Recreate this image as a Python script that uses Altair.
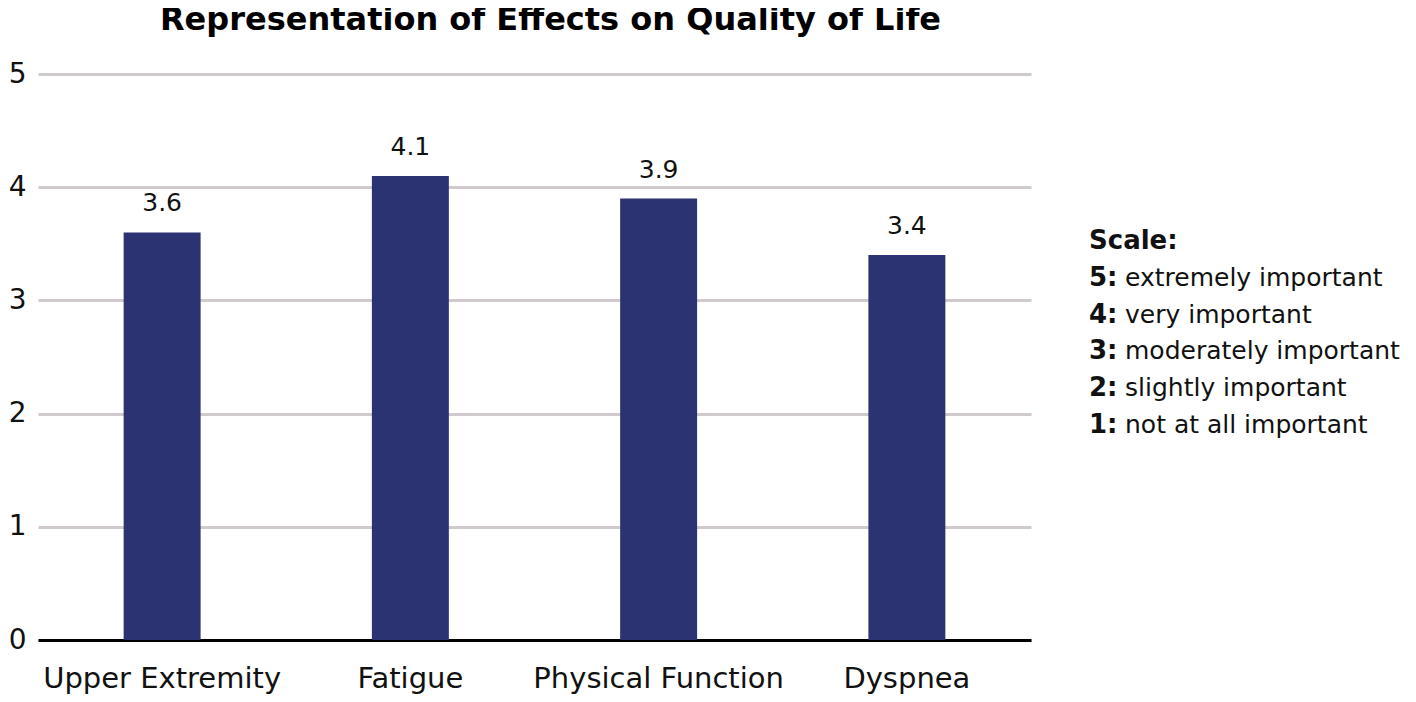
import altair as alt
import pandas as pd

categories = ["Upper Extremity", "Fatigue", "Physical Function", "Dyspnea"]
values = [3.6, 4.1, 3.9, 3.4]
value_labels = ["3.6", "4.1", "3.9", "3.4"]
y_ticks = [0, 1, 2, 3, 4, 5]
scale_keys = ["Scale:", "5:", "4:", "3:", "2:", "1:"]
scale_desc = ["", "extremely important", "very important", "moderately important",
              "slightly important", "not at all important"]

df = pd.DataFrame({"category": categories, "value": values, "label": value_labels})

FONT = "DejaVu Sans"
BAR = "#2c3373"
TXT = "#111111"

x = alt.X("category:N", sort=categories, title=None,
          scale=alt.Scale(paddingInner=0.69, paddingOuter=0.345),
          axis=alt.Axis(labelAngle=0, labelFontSize=29, labelColor=TXT,
                        labelFont=FONT, labelPadding=24, labelLimit=400, ticks=False,
                        domainColor="#000000", domainWidth=3))
y = alt.Y("value:Q", title=None,
          scale=alt.Scale(domain=[0, 5], nice=False),
          axis=alt.Axis(values=y_ticks, labelFontSize=28, labelColor=TXT,
                        labelFont=FONT, labelPadding=12, ticks=False, domain=False,
                        gridColor="#d0cacc", gridWidth=3, format="d"))

bars = alt.Chart(df).mark_bar(color=BAR).encode(x=x, y=y)
labels = alt.Chart(df).mark_text(fontSize=25, font=FONT, color=TXT,
                                 baseline="alphabetic", dy=-21).encode(
    x=alt.X("category:N", sort=categories), y="value:Q", text="label:N")

one = pd.DataFrame({"k": [0]})
legend_keys = alt.Chart(one).mark_text(
    text=scale_keys, fontSize=26, font=FONT, fontWeight="bold", color=TXT,
    align="left", baseline="alphabetic", lineHeight=36.8).encode(
    x=alt.value(1051), y=alt.value(175))
legend_desc = alt.Chart(one).mark_text(
    text=scale_desc, fontSize=25, font=FONT, color=TXT,
    align="left", baseline="alphabetic", lineHeight=36.8).encode(
    x=alt.value(1087), y=alt.value(175))

chart = alt.layer(bars, labels, legend_keys, legend_desc).properties(
    width=993, height=566,
    autosize=alt.AutoSizeParams(type="none"),
    padding={"left": 30, "top": 66, "right": 377, "bottom": 54},
    background="white",
    title=alt.TitleParams("Representation of Effects on Quality of Life",
                          fontSize=32, font=FONT, fontWeight="bold", color="#000000",
                          anchor="middle", dx=16, offset=23),
).configure_view(stroke=None)

chart.save("out.html", embed_options={"renderer": "svg", "actions": False})
